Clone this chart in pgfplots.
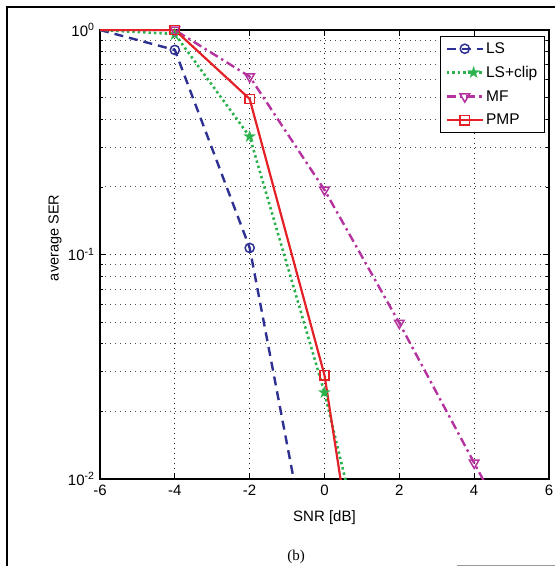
\documentclass[border=0pt]{standalone}
\usepackage{fontspec}
\setmainfont{Liberation Sans}
\newfontfamily\captionfont{Liberation Serif}
\newfontfamily\symbolfont{DejaVu Sans}
\usepackage{pgfplots}
\pgfplotsset{compat=1.18}
\usetikzlibrary{plotmarks}

\definecolor{lsblue}{HTML}{2E3192}
\definecolor{clipgreen}{HTML}{2BB24C}
\definecolor{mfmag}{HTML}{B5339E}
\definecolor{pmpred}{HTML}{E42127}

\begin{document}
\begin{tikzpicture}
\useasboundingbox (0,0) rectangle (555bp,566bp);
\draw[line width=1.3bp] (7bp,0) -- (7bp,559bp) -- (555bp,559bp);
\draw[black!40, line width=1bp] (457bp,0.8bp) -- (555bp,0.8bp);
\node[font=\captionfont\fontsize{15bp}{17bp}\selectfont] at (296bp,9bp) {(b)};

\begin{semilogyaxis}[
  at={(100bp,87bp)}, anchor=south west,
  scale only axis, width=449bp, height=449bp,
  xmin=-6, xmax=6, ymin=1e-2, ymax=1,
  xtick={-6,-4,-2,0,2,4,6},
  xticklabels={-6,-4,-2,0,2,4,6},
  ytick={1e-2,1e-1,1},
  yticklabels={10\textsuperscript{-2},10\textsuperscript{-1},10\textsuperscript{0}},
  ticklabel style={font=\fontsize{15bp}{18bp}\selectfont},
  xticklabel style={yshift=-3bp},
  yticklabel style={xshift=-2bp},
  axis line style={line width=2bp},
  major tick length=6bp, minor tick length=3bp,
  every tick/.style={black, line width=0.8bp},
  grid=both,
  major grid style={black!85, line width=1bp, dash pattern=on 1bp off 4bp},
  minor grid style={black!70, line width=1bp, dash pattern=on 1bp off 4bp},
  xlabel={SNR [dB]},
  ylabel={average SER},
  xlabel style={font=\fontsize{15bp}{18bp}\selectfont, at={(axis description cs:0.5,-0.087)}, anchor=center},
  ylabel style={font=\fontsize{14.5bp}{17bp}\selectfont, at={(axis description cs:-0.1,0.537)}, anchor=center, rotate=0},
  legend style={at={(rel axis cs:0.991,0.9866)}, anchor=north east,
    font=\fontsize{15.5bp}{18bp}\selectfont, draw=black, line width=1.2bp,
    inner xsep=5bp, inner ysep=4bp, row sep=7.5bp, cells={anchor=west}},
  legend image code/.code={\draw[mark indices={2}] plot coordinates {(0bp,0bp)(18bp,0bp)(36bp,0bp)};},
  mark indices={2,3,4,5,6,7},
]

\addplot[color=lsblue, line width=2.4bp, dash pattern=on 9bp off 6bp,
  mark=o, mark size=4.6bp, mark options={solid, line width=1.5bp}]
coordinates {(-6,1)(-4,0.815)(-2,0.107)(0,0.0019)};
\addlegendentry{LS}

\addplot[color=clipgreen, line width=2.6bp, dash pattern=on 2.4bp off 3bp,
  mark=text, text mark={\symbolfont ★}, text mark as node=true,
  text mark style={text=clipgreen, inner sep=0pt, font=\symbolfont\fontsize{17bp}{17bp}\selectfont}]
coordinates {(-6,1)(-4,0.96)(-2,0.335)(0,0.0242)(2,0.001)};
\addlegendentry{LS+clip}

\addplot[color=mfmag, line width=2.4bp, dash pattern=on 9bp off 4bp on 2.4bp off 4bp,
  mark=triangle, mark size=5.5bp, mark options={solid, rotate=180, line width=1.5bp}]
coordinates {(-6,1)(-4,1)(-2,0.62)(0,0.194)(2,0.0495)(4,0.0118)(6,0.0028)};
\addlegendentry{MF}

\addplot[color=pmpred, line width=2.2bp,
  mark=square, mark size=4.6bp, mark options={solid, line width=1.5bp}]
coordinates {(-6,1)(-4,1)(-2,0.493)(0,0.029)(2,0.0002)};
\addlegendentry{PMP}

\end{semilogyaxis}
\end{tikzpicture}
\end{document}
